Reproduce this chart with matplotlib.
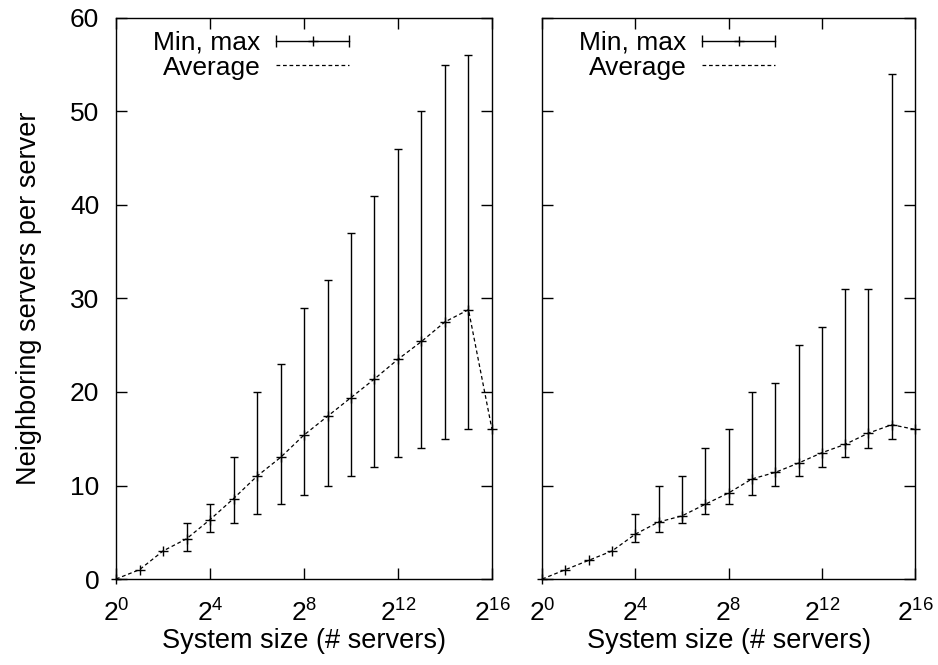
import numpy as np
import matplotlib
matplotlib.use('Agg')
import matplotlib.pyplot as plt
from matplotlib.lines import Line2D
from matplotlib.legend_handler import HandlerBase

plt.rcParams['font.family'] = ['Liberation Sans', 'DejaVu Sans']
plt.rcParams['mathtext.default'] = 'regular'

# exponents of 2 (system size = 2**k servers)
k = np.arange(0, 17)

# left panel
avg_left = [0, 1, 3, 4.3, 6.35, 8.6, 11.0, 13.0, 15.4, 17.4, 19.4, 21.4, 23.5, 25.4, 27.5, 28.8, 16]
min_left = [0, 1, 3, 3, 5, 6, 7, 8, 9, 10, 11, 12, 13, 14, 15, 16, 16]
max_left = [0, 1, 3, 6, 8, 13, 20, 23, 29, 32, 37, 41, 46, 50, 55, 56, 16]

# right panel
avg_right = [0, 1, 2, 3, 4.8, 6.1, 6.75, 8.0, 9.2, 10.7, 11.4, 12.4, 13.5, 14.4, 15.6, 16.5, 16]
min_right = [0, 1, 2, 3, 4, 5, 6, 7, 8, 9, 10, 11, 12, 13, 14, 15, 16]
max_right = [0, 1, 2, 3, 7, 10, 11, 14, 16, 20, 21, 25, 27, 31, 31, 54, 16]

xtick_exp = [0, 4, 8, 12, 16]
yticks = [0, 10, 20, 30, 40, 50, 60]


class HBarHandler(HandlerBase):
    # gnuplot-like horizontal errorbar sample in the legend
    def create_artists(self, legend, orig_handle, xdescent, ydescent,
                       width, height, fontsize, trans):
        y = height / 2 - ydescent
        x0, x1 = -xdescent, width - xdescent
        line = Line2D([x0, x1], [y, y], color='k', lw=1.0)
        caps = Line2D([x0, x1], [y, y], ls='', marker='|', ms=8, mew=1.0, color='k')
        mid = Line2D([(x0 + x1) / 2], [y], ls='', marker='+', ms=7, mew=1.0, color='k')
        for a in (line, caps, mid):
            a.set_transform(trans)
        return [line, caps, mid]


fig = plt.figure(figsize=(9.38, 6.65), dpi=100)
ax1 = fig.add_axes([0.1237, 0.1293, 0.4008, 0.8437])
ax2 = fig.add_axes([0.578, 0.1293, 0.3975, 0.8437])

x = 2.0 ** k
dash = (0, (3.0, 2.2))

for ax, avg, lo, hi in [(ax1, avg_left, min_left, max_left),
                        (ax2, avg_right, min_right, max_right)]:
    avg = np.array(avg)
    lo = np.array(lo)
    hi = np.array(hi)
    has_bar = hi > lo
    ax.errorbar(x[has_bar], avg[has_bar],
                yerr=[avg[has_bar] - lo[has_bar], hi[has_bar] - avg[has_bar]],
                fmt='none', ecolor='k', elinewidth=1.0, capsize=3.2, capthick=1.0)
    ax.plot(x, avg, ls='', marker='+', ms=7, mew=1.0, color='k', clip_on=False)
    ax.plot(x, avg, ls=dash, lw=0.9, color='k', clip_on=False)

    ax.set_xscale('log', base=2)
    ax.set_xlim(1, 2 ** 16)
    ax.set_ylim(0, 60)
    ax.set_xticks([2.0 ** e for e in xtick_exp])
    ax.set_xticklabels(['$2^{%d}$' % e for e in xtick_exp])
    ax.xaxis.set_minor_locator(matplotlib.ticker.NullLocator())
    ax.set_yticks(yticks)
    ax.tick_params(direction='in', length=8, width=1.0, top=True, right=True,
                   labelsize=19)
    ax.tick_params(axis='x', pad=15)
    ax.tick_params(axis='y', pad=12)
    for s in ax.spines.values():
        s.set_linewidth(1.0)
    ax.set_xlabel('System size (# servers)', fontsize=19.5, labelpad=1)

    h_mm = Line2D([], [])
    h_avg = Line2D([], [], ls=dash, lw=0.9, color='k')
    ax.legend([h_mm, h_avg], ['Min, max', 'Average'], handler_map={h_mm: HBarHandler()},
              loc='upper left', bbox_to_anchor=(0.057, 1.005), frameon=False,
              markerfirst=False, fontsize=19, handlelength=2.75, handletextpad=0.6,
              labelspacing=0.02, borderaxespad=0.2)

ax1.set_ylabel('Neighboring servers per server', fontsize=19.5, labelpad=20)
ax2.set_yticklabels([])

fig.savefig('out.png', dpi=100)
